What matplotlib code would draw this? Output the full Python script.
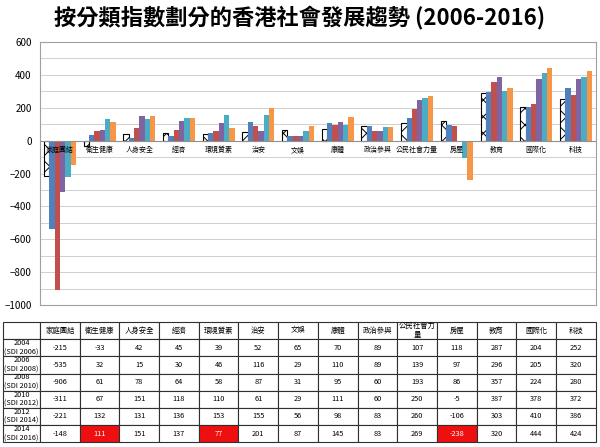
import numpy as np
import matplotlib
matplotlib.use('Agg')
from matplotlib import pyplot as plt

plt.rcParams['font.family'] = ['Noto Sans CJK TC', 'DejaVu Sans']
plt.rcParams['hatch.linewidth'] = 0.7

categories = ['家庭團結', '衛生健康', '人身安全', '經濟', '環境質素', '治安', '文娛',
              '康體', '政治參與', '公民社會力量', '房屋', '教育', '國際化', '科技']
row_labels = ['2004\n(SDI 2006)', '2006\n(SDI 2008)', '2008\n(SDI 2010)',
              '2010\n(SDI 2012)', '2012\n(SDI 2014)', '2014\n(SDI 2016)']

v2004 = [-215, -33, 42, 45, 39, 52, 65, 70, 89, 107, 118, 287, 204, 252]
v2006 = [-535, 32, 15, 30, 46, 116, 29, 110, 89, 139, 97, 296, 205, 320]
v2008 = [-906, 61, 78, 64, 58, 87, 31, 95, 60, 193, 86, 357, 224, 280]
v2010 = [-311, 67, 151, 118, 110, 61, 29, 111, 60, 250, -5, 387, 378, 372]
v2012 = [-221, 132, 131, 136, 153, 155, 56, 98, 83, 260, -106, 303, 410, 386]
v2014 = [-148, 111, 151, 137, 77, 201, 87, 145, 83, 269, -238, 320, 444, 424]
series = [v2004, v2006, v2008, v2010, v2012, v2014]

# cells highlighted red in the table (series index, category index)
highlight = [(5, 1), (5, 4), (5, 10)]

colors = ['white', '#4F81BD', '#C0504D', '#8064A2', '#4BACC6', '#F79646']

fig = plt.figure(figsize=(6, 4.47), dpi=100)
fig.text(0.5, 0.958, '按分類指數劃分的香港社會發展趨勢 (2006-2016)',
         ha='center', va='center', fontsize=16, fontweight='bold')

ax = fig.add_axes([0.0667, 0.3177, 0.9263, 0.5883])
x = np.arange(len(categories))
w = 0.134
for i, vals in enumerate(series):
    off = (i - 2.5) * w
    if i == 0:
        ax.bar(x + off, vals, w, color='white', edgecolor='black',
               hatch='xx', linewidth=0.8, zorder=3)
    else:
        ax.bar(x + off, vals, w, color=colors[i], linewidth=0, zorder=3)

ax.set_xlim(-0.5, len(categories) - 0.5)
ax.set_ylim(-1000, 600)
ax.set_yticks(np.arange(-1000, 601, 200))
ax.set_yticks(np.arange(-1000, 601, 100), minor=True)
ax.yaxis.grid(True, which='both', color='#d0d0d0', linewidth=0.7, zorder=0)
ax.set_xticks([])
ax.tick_params(axis='y', which='both', length=0, labelsize=7, pad=6)
ax.axhline(0, color='#909090', linewidth=0.8, zorder=4)
for s in ax.spines.values():
    s.set_color('#a0a0a0')
    s.set_linewidth(0.8)
for xi, c in zip(x, categories):
    ax.text(xi, -58, c, ha='center', va='center', fontsize=5, zorder=6)

# table below
tab = [[''] + [c if c != '公民社會力量' else '公民社會力\n量' for c in categories]]
for r, lab in enumerate(row_labels):
    tab.append([lab] + [str(v) for v in series[r]])

tax = fig.add_axes([0.005, 0.011, 0.988, 0.2685])
tax.axis('off')
first = 37 / 593
other = (1 - first) / len(categories)
widths = [first] + [other] * len(categories)
table = tax.table(cellText=tab, colWidths=widths, cellLoc='center',
                  bbox=[0, 0, 1, 1])
table.auto_set_font_size(False)
for (r, c), cell in table.get_celld().items():
    cell.set_edgecolor('#303030')
    cell.set_linewidth(0.8)
    cell.get_text().set_fontsize(5.3)
    cell.PAD = 0.02
    if (r - 1, c - 1) in highlight:
        cell.set_facecolor('#EE1010')
        cell.get_text().set_color('white')

fig.savefig('out.png', dpi=100)
